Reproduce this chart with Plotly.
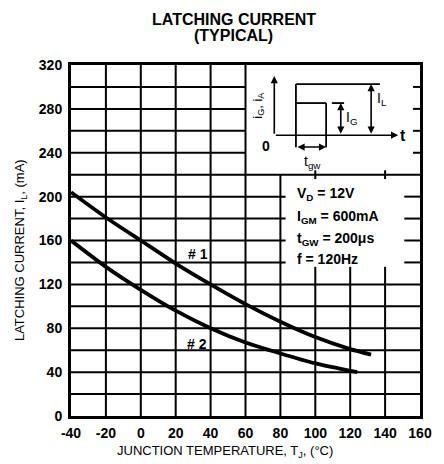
import plotly.graph_objects as go

# ---- data ----
temp_1 = [-40, -20, 0, 20, 40, 60, 80, 100, 120, 132]
curr_1 = [204, 181, 160, 139, 120, 102, 86, 72, 61, 56]
temp_2 = [-40, -20, 0, 20, 40, 60, 80, 100, 124]
curr_2 = [160, 136, 115, 96, 80, 67, 57, 48, 40]

x_ticks = [-40, -20, 0, 20, 40, 60, 80, 100, 120, 140, 160]
x_tick_labels = ["-40", "-20", "0", "20", "40", "60", "80", "100", "120", "140", "160"]
y_ticks = [0, 40, 80, 120, 160, 200, 240, 280, 320]
y_tick_labels = ["0", "40", "80", "120", "160", "200", "240", "280", "320"]
y_grid = list(range(20, 320, 20))
x_grid = list(range(-20, 160, 20))

conditions = ["V<sub>D</sub> = 12V", "I<sub>GM</sub> = 600mA",
              "t<sub>GW</sub> = 200μs", "f = 120Hz"]

FONT = "Liberation Sans, Arial, Helvetica, sans-serif"
BLK = "black"

fig = go.Figure()
line_style = dict(color=BLK, width=3.8, shape="spline", smoothing=0.6)
fig.add_trace(go.Scatter(x=temp_1, y=curr_1, mode="lines", line=line_style,
                         hoverinfo="skip", showlegend=False))
fig.add_trace(go.Scatter(x=temp_2, y=curr_2, mode="lines", line=line_style,
                         hoverinfo="skip", showlegend=False))

shapes = []
def seg(x0, y0, x1, y1, w=2):
    shapes.append(dict(type="line", xref="x", yref="y", x0=x0, y0=y0, x1=x1, y1=y1,
                       line=dict(color=BLK, width=w), layer="below"))

# horizontal grid lines (broken around inset and condition text)
for y in y_grid:
    if y >= 240:
        seg(-40, y, 60, y)
        seg(156, y, 160, y)
    elif y == 220:
        seg(-40, y, 160, y)
    elif y >= 140:
        seg(-40, y, 83, y)
        seg(151, y, 160, y)
    else:
        seg(-40, y, 160, y)
# vertical grid lines
for x in x_grid:
    if x <= 60:
        seg(x, 0, x, 320)
    elif x == 80:
        seg(x, 0, x, 220)
    else:
        seg(x, 0, x, 136)
        if x in (100, 140):
            seg(x, 216, x, 224)

# inset waveform sketch
def iseg(x0, y0, x1, y1, w=1.8):
    shapes.append(dict(type="line", xref="x", yref="y", x0=x0, y0=y0, x1=x1, y1=y1,
                       line=dict(color=BLK, width=w), layer="above"))
iseg(88.9, 245, 88.9, 302.6)
iseg(88.9, 302.6, 137, 302.6)
iseg(88.9, 285.3, 106.2, 285.3)
iseg(106.2, 245, 106.2, 285.3)
iseg(109.5, 285.3, 116.5, 285.3)

annotations = []
def arrow(x0, y0, x1, y1, both=False):
    annotations.append(dict(x=x1, y=y1, ax=x0, ay=y0, xref="x", yref="y",
                            axref="x", ayref="y", text="", showarrow=True,
                            arrowhead=2, arrowsize=0.9, arrowwidth=1.6, arrowcolor=BLK,
                            arrowside="end+start" if both else "end",
                            startarrowhead=2, startarrowsize=0.9))
arrow(76.5, 256, 76.5, 310)
arrow(76.5, 256, 147.5, 256)
arrow(114.6, 256, 114.6, 285.3, both=True)
arrow(132, 256, 132, 302.6, both=True)
arrow(88.9, 245.2, 106.2, 245.2, both=True)

def txt(x, y, s, size=13, bold=True, angle=0, xanchor="center", yanchor="middle",
        xref="x", yref="y"):
    annotations.append(dict(x=x, y=y, xref=xref, yref=yref, text=s, showarrow=False,
                            textangle=angle, xanchor=xanchor, yanchor=yanchor,
                            font=dict(family=FONT, size=size, color=BLK,
                                      weight="bold" if bold else "normal")))

txt(150.5, 256, "t", size=16)
txt(72, 246, "0", size=14)
txt(138, 289, "I<sub>L</sub>", size=14, bold=False)
txt(121, 272, "I<sub>G</sub>", size=14, bold=False)
txt(98.5, 232, "t<sub>gw</sub>", size=14, bold=False)
txt(67, 283.5, "i<sub>G</sub>, i<sub>A</sub>", size=13, bold=False, angle=-90)

for yv, s in zip([202, 181.5, 161.5, 143.5], conditions):
    txt(88.5, yv, s, size=14, xanchor="left")

txt(33, 148, "# 1", size=14)
txt(32, 66, "# 2", size=14)

# titles
txt(0.466, 1.13, "LATCHING CURRENT", size=16, xref="paper", yref="paper")
txt(0.466, 1.085, "(TYPICAL)", size=16, xref="paper", yref="paper")
txt(0.44, -0.102, "JUNCTION TEMPERATURE, T<sub>J</sub>, (°C)", size=13, bold=False,
    xref="paper", yref="paper")
txt(-0.143, 0.473, "LATCHING CURRENT, I<sub>L</sub>, (mA)", size=13, bold=False,
    angle=-90, xref="paper", yref="paper")

axis_common = dict(showgrid=False, zeroline=False, showline=True, linecolor=BLK,
                   linewidth=3, mirror=True, ticks="",
                   tickfont=dict(family=FONT, size=14, color=BLK, weight="bold"))
fig.update_layout(
    width=444, height=464,
    margin=dict(l=71, r=16, t=65, b=48),
    paper_bgcolor="white", plot_bgcolor="white",
    xaxis=dict(range=[-40, 160], tickmode="array", tickvals=x_ticks,
               ticktext=x_tick_labels, ticklabelstandoff=2, **axis_common),
    yaxis=dict(range=[0, 320], tickmode="array", tickvals=y_ticks,
               ticktext=y_tick_labels, ticklabelstandoff=3, **axis_common),
    shapes=shapes, annotations=annotations, showlegend=False,
)
fig.write_html(
    "out.html",
    config={"responsive": False, "displayModeBar": False, "staticPlot": True},
    post_script=("document.body.style.margin='0';"
                 "document.body.style.overflow='hidden';"
                 "Plotly.relayout('{plot_id}', {width: 444, height: 464});"),
)
